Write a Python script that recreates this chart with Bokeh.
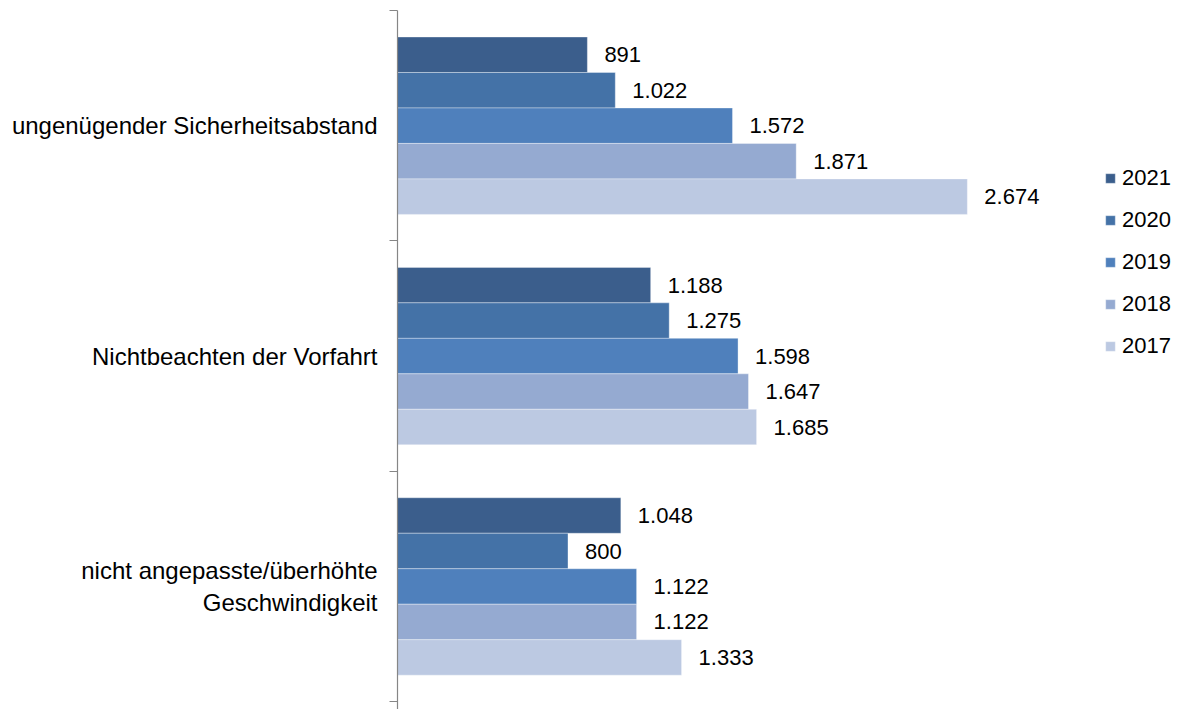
from bokeh.plotting import figure
from bokeh.models import (ColumnDataSource, Range1d, LinearAxis, FixedTicker,
                          LabelSet, Legend, LegendItem)
from bokeh.core.properties import value
from bokeh.embed import file_html
from bokeh.resources import INLINE

# ---- data ----
categories = ["ungenügender Sicherheitsabstand",
              "Nichtbeachten der Vorfahrt",
              "nicht angepasste/überhöhte\nGeschwindigkeit"]
years = ["2021", "2020", "2019", "2018", "2017"]
v2021 = [891, 1188, 1048]
v2020 = [1022, 1275, 800]
v2019 = [1572, 1598, 1122]
v2018 = [1871, 1647, 1122]
v2017 = [2674, 1685, 1333]
series = [v2021, v2020, v2019, v2018, v2017]
colors = ["#3B5E8C", "#4472A7", "#4F80BC", "#95AAD1", "#BCC9E2"]

FONT = "Liberation Sans"

def de(n):
    return f"{n:,}".replace(",", ".")

ncat = len(categories)
# category band centres (first category on top)
cat_pos = [ncat - 1 - i + 0.5 for i in range(ncat)]

# frame: top at 10px, bands of ~235.7px, frame cut 8px above the last boundary
band_px = 707 / ncat
y_start = -8 / band_px

p = figure(width=1171, height=709, output_backend="svg", toolbar_location=None,
           y_range=Range1d(y_start, ncat), x_range=Range1d(0, 3632),
           x_axis_location=None, y_axis_location=None,
           min_border_left=397, min_border_right=0, min_border_top=10, min_border_bottom=0)
p.outline_line_color = None
p.xgrid.visible = False
p.ygrid.visible = False
p.background_fill_color = "white"
p.border_fill_color = "white"

# category axis: labels at band centres, tick marks (minor) at band boundaries
ax = LinearAxis(ticker=FixedTicker(ticks=cat_pos, minor_ticks=list(range(ncat + 1))),
                major_label_overrides={pos: c for pos, c in zip(cat_pos, categories)},
                axis_line_color="#868686", axis_line_width=1.2,
                major_tick_line_color=None, major_tick_out=0, major_tick_in=0,
                minor_tick_line_color="#868686", minor_tick_line_width=1.2,
                minor_tick_out=8, minor_tick_in=0,
                major_label_standoff=12,
                major_label_text_font=FONT, major_label_text_font_size="24px",
                major_label_text_color="black")
p.add_layout(ax, "left")

bar_h = 0.154
renderers = []
for i, (yr, vals, col) in enumerate(zip(years, series, colors)):
    off = (2 - i) * bar_h
    ys = [c + off for c in cat_pos]
    src = ColumnDataSource(dict(y=ys, val=vals, txt=[de(v) for v in vals]))
    r = p.hbar(y="y", right="val", left=0, height=bar_h,
               source=src, fill_color=col, line_color="white", line_alpha=0.35, line_width=1)
    renderers.append(r)
    lab = LabelSet(x="val", y="y", text="txt", source=src,
                   x_offset=17, text_align="left", text_baseline="middle",
                   text_font=value(FONT), text_font_size=value("22px"), text_color="black")
    p.add_layout(lab)

legend = Legend(items=[LegendItem(label=y, renderers=[r]) for y, r in zip(years, renderers)],
                location=(707, 350), orientation="vertical",
                glyph_width=12, glyph_height=12, label_height=25, spacing=16,
                label_standoff=6, padding=0, margin=0,
                border_line_color=None, background_fill_alpha=0,
                label_text_font=FONT, label_text_font_size="22px", label_text_color="black")
p.add_layout(legend)

open("out.html", "w").write(file_html(p, INLINE))
